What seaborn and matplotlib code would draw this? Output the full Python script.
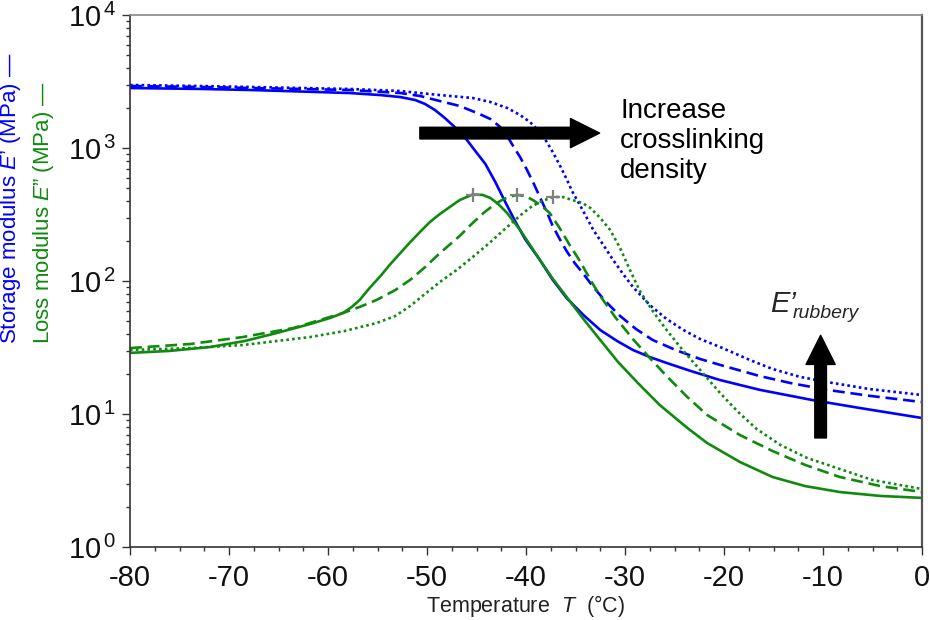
import numpy as np
import pandas as pd
import matplotlib
matplotlib.use("Agg")
import matplotlib.pyplot as plt
import seaborn as sns
from matplotlib.ticker import FixedLocator, MultipleLocator, LogLocator, FixedFormatter, NullFormatter

# ---------------- data ----------------
# Storage modulus E' (blue) for three crosslinking densities
T_Es_solid = [-80.0, -72.9, -67.9, -62.8, -57.8, -54.7, -52.7, -51.2, -50.2, -49.2, -48.2, -47.2, -46.2,
              -45.2, -44.1, -43.1, -42.1, -41.1, -40.1, -38.6, -37.3, -35.9, -34.2, -32.5, -30.8, -29.2,
              -27.5, -25.8, -23.4, -20.4, -16.4, -11.0, -6.3, 0.0]
Es_solid = [2825, 2780, 2730, 2660, 2590, 2500, 2416, 2296, 2143, 1931, 1681, 1438, 1210,
            966, 758, 555, 393, 282, 207, 144, 102, 74.5, 55.5, 42.8, 35.4, 30.3,
            26.8, 24.2, 21.1, 18.0, 15.2, 12.7, 11.1, 9.33]

T_Es_dash = [-80.0, -72.9, -67.9, -62.8, -57.8, -52.7, -50.7, -48.7, -46.7, -44.7, -43.6, -42.6, -41.9,
             -41.3, -40.6, -39.9, -39.2, -38.6, -37.9, -37.3, -36.6, -35.9, -35.1, -34.2, -33.2, -32.0,
             -30.5, -28.9, -27.2, -24.9, -22.4, -20.4, -16.4, -13.3, -9.6, -5.3, 0.0]
Es_dash = [2925, 2877, 2825, 2780, 2730, 2592, 2460, 2255, 2070, 1802, 1652, 1438, 1231,
           1035, 856, 684, 536, 428, 330, 259, 207, 168, 137, 113, 90.2, 70.7,
           54.6, 43.6, 36.0, 30.3, 25.9, 23.4, 19.3, 17.1, 15.2, 13.7, 12.3]

T_Es_dot = [-80.0, -72.9, -67.9, -62.8, -57.8, -52.7, -48.7, -45.4, -43.6, -41.9, -40.6, -39.6, -38.6,
            -37.9, -37.3, -36.6, -35.9, -35.3, -34.5, -33.8, -33.2, -32.2, -31.2, -30.2, -29.2, -27.5,
            -25.8, -24.1, -22.4, -20.4, -17.4, -15.1, -12.3, -9.6, -5.3, 0.0]
Es_dot = [2977, 2925, 2877, 2825, 2780, 2683, 2500, 2377, 2218, 2000, 1770, 1567, 1319,
          1109, 933, 745, 585, 467, 366, 293, 242, 187, 144, 113, 90.2, 66.0,
          51.8, 42.8, 36.6, 31.9, 25.5, 21.8, 19.0, 17.4, 15.4, 13.9]

# Loss modulus E'' (green)
T_El_solid = [-80.0, -76.0, -71.9, -68.4, -65.2, -61.8, -59.8, -58.5, -57.6, -56.8, -55.8, -54.7, -53.7,
              -52.7, -51.7, -50.7, -49.7, -48.7, -47.7, -46.7, -45.4, -44.4, -43.6, -42.8, -41.9, -40.6,
              -39.6, -38.6, -37.3, -35.9, -34.2, -32.5, -30.7, -28.7, -26.5, -23.7, -21.7, -18.4, -15.1,
              -11.8, -8.3, -4.2, 0.0]
El_solid = [28.8, 29.8, 31.9, 35.4, 40.6, 47.5, 52.7, 57.4, 63.8, 72.0, 88.6, 109, 134,
            162, 196, 234, 278, 319, 360, 406, 447, 444, 421, 379, 324, 242,
            187, 144, 104, 75.9, 51.8, 36.0, 24.6, 17.1, 11.7, 7.85, 6.05, 4.36, 3.36,
            2.87, 2.59, 2.42, 2.34]

T_El_dash = [-80.0, -73.9, -68.6, -63.5, -58.5, -56.8, -55.1, -53.2, -51.7, -50.2, -48.7, -46.7, -45.5,
             -44.3, -43.4, -42.6, -41.8, -40.9, -40.1, -39.3, -38.4, -37.6, -36.6, -35.6, -34.5, -33.5,
             -32.5, -31.0, -29.2, -27.5, -25.8, -23.7, -21.7, -18.4, -15.1, -11.8, -8.3, -4.2, 0.0]
El_dash = [31.3, 33.6, 37.9, 44.3, 57.4, 63.8, 72.0, 85.5, 102, 127, 162, 218, 268,
           324, 366, 400, 428, 444, 436, 406, 366, 324, 250, 187, 139, 102,
           77.1, 53.6, 36.6, 26.4, 19.3, 13.4, 9.83, 6.95, 5.27, 4.14, 3.36, 2.87, 2.59]

T_El_dot = [-80.0, -73.9, -68.6, -61.8, -58.3, -55.1, -53.2, -51.7, -50.2, -48.7, -47.0, -45.4, -43.6,
            -41.9, -40.3, -39.5, -38.6, -37.3, -36.3, -35.3, -34.3, -33.5, -32.5, -31.5, -30.5, -29.5,
            -28.5, -27.2, -25.8, -24.1, -22.4, -20.4, -18.6, -16.7, -14.3, -11.6, -8.3, -5.0, 0.0]
El_dot = [30.3, 31.3, 33.0, 37.9, 42.1, 48.3, 54.6, 64.9, 79.9, 98.3, 121, 151, 196,
          255, 324, 360, 393, 428, 428, 406, 386, 354, 298, 242, 177, 121,
          84.1, 59.5, 42.8, 29.8, 21.4, 14.4, 10.4, 7.71, 5.85, 4.67, 3.86, 3.19, 2.73]

# E'' peak markers
peak_T = [-45.4, -40.9, -37.3]
peak_E = [447, 444, 428]

x_ticks = [-80, -70, -60, -50, -40, -30, -20, -10, 0]
y_ticks = [1, 10, 100, 1000, 10000]
y_tick_labels = ["10$^{\\,0}$", "10$^{\\,1}$", "10$^{\\,2}$", "10$^{\\,3}$", "10$^{\\,4}$"]

# ---------------- style ----------------
sns.set_theme(style="white")
plt.rcParams["font.family"] = ["Liberation Sans", "DejaVu Sans"]
plt.rcParams["mathtext.fontset"] = "custom"
plt.rcParams["mathtext.rm"] = "Liberation Sans"
plt.rcParams["mathtext.it"] = "Liberation Sans:italic"

BLUE = "#0000ff"
GREEN = "#0f8a0f"

fig = plt.figure(figsize=(9.3, 6.2), dpi=100)
ax = fig.add_axes([130 / 930, 73 / 620, 792 / 930, 532 / 620])

series = [
    (T_Es_solid, Es_solid, BLUE, "-"),
    (T_Es_dash, Es_dash, BLUE, (0, (4.5, 2.2))),
    (T_Es_dot, Es_dot, BLUE, (0, (1, 1.2))),
    (T_El_solid, El_solid, GREEN, "-"),
    (T_El_dash, El_dash, GREEN, (0, (4.5, 2.2))),
    (T_El_dot, El_dot, GREEN, (0, (1, 1.2))),
]
for xs, ys, col, ls in series:
    sns.lineplot(x=xs, y=ys, ax=ax, color=col, linewidth=1.9, linestyle=ls,
                 estimator=None, sort=False)

sns.scatterplot(x=peak_T, y=peak_E, ax=ax, marker="+", s=110, color="#808080",
                linewidth=1.6, zorder=5)

ax.set_yscale("log")
ax.set_xlim(-80, 0)
ax.set_ylim(1, 10000)

ax.xaxis.set_major_locator(FixedLocator(x_ticks))
ax.xaxis.set_minor_locator(MultipleLocator(2.5))
ax.set_xticklabels([str(v) for v in x_ticks])
ax.yaxis.set_major_locator(FixedLocator(y_ticks))
ax.yaxis.set_major_formatter(FixedFormatter(y_tick_labels))
ax.yaxis.set_minor_locator(LogLocator(base=10, subs=np.arange(2, 10)))
ax.yaxis.set_minor_formatter(NullFormatter())

ax.tick_params(axis="both", which="major", direction="out", length=6, width=1.0,
               color="#333333", labelsize=21, labelcolor="#111111")
ax.tick_params(axis="x", which="major", pad=6, bottom=True)
ax.tick_params(axis="y", which="major", pad=4, left=True)
ax.tick_params(axis="both", which="minor", direction="out", length=3, width=1.0,
               color="#333333", bottom=True, left=True)
ax.tick_params(top=False, right=False)

for side in ["left", "bottom"]:
    ax.spines[side].set_color("#333333")
    ax.spines[side].set_linewidth(1.2)
ax.spines["top"].set_color("#888888")
ax.spines["top"].set_linewidth(1.2)
ax.spines["right"].set_color("#555555")
ax.spines["right"].set_linewidth(1.6)

ax.set_xlabel("Temperature  $\\mathit{T}$  (°C)", fontsize=15.5, color="#222222", labelpad=1)
ax.set_ylabel("")

fig.text(11 / 930, 1 - 344 / 620, "Storage modulus $\\mathit{E}$’ (MPa) —", rotation=90,
         ha="center", va="bottom", color=BLUE, fontsize=16)
fig.text(44 / 930, 1 - 344 / 620, "Loss modulus $\\mathit{E}$” (MPa) —", rotation=90,
         ha="center", va="bottom", color=GREEN, fontsize=16)

# arrows and annotations
arrow_style = "simple,head_length=1.5,head_width=1.5,tail_width=0.6"
ax.annotate("", xy=(0.593, 0.778), xytext=(0.366, 0.778), xycoords="axes fraction",
            textcoords="axes fraction",
            arrowprops=dict(arrowstyle=arrow_style, mutation_scale=14, color="black",
                            shrinkA=0, shrinkB=0))
ax.annotate("", xy=(0.872, 0.398), xytext=(0.872, 0.205), xycoords="axes fraction",
            textcoords="axes fraction",
            arrowprops=dict(arrowstyle=arrow_style, mutation_scale=14, color="black",
                            shrinkA=0, shrinkB=0))
ax.text(0.619, 0.763, "Increase\ncrosslinking\ndensity", transform=ax.transAxes,
        ha="left", va="center", fontsize=20, linespacing=1.2, color="black")
ax.text(0.808, 0.442, "E’", transform=ax.transAxes, ha="left", va="baseline",
        fontsize=21, style="italic")
ax.text(0.837, 0.43, "rubbery", transform=ax.transAxes, ha="left", va="baseline",
        fontsize=14, style="italic")

fig.savefig("out.png", dpi=100)
